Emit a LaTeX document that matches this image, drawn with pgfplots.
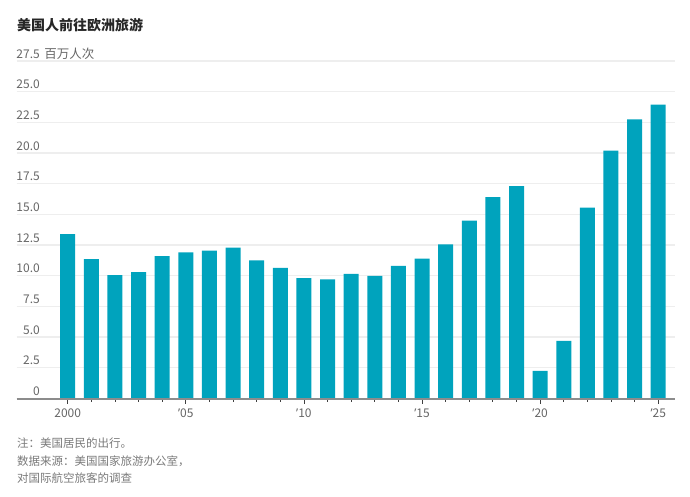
\documentclass[border=0pt]{standalone}
\usepackage{fontspec}
\setmainfont{Noto Sans CJK SC}
\newfontfamily\latinf{Noto Sans}
\usepackage{pgfplots}
\pgfplotsset{compat=1.18}
\definecolor{barc}{HTML}{00A3BD}
\definecolor{gridc}{HTML}{EEEEEE}
\definecolor{axisc}{HTML}{8C8C8C}
\definecolor{labc}{HTML}{666666}
\definecolor{notec}{HTML}{7A7A7A}
\newcommand{\ap}{{\latinf\char"2019}}
\pgfplotstableread{
year value
2000 13.4
2001 11.35
2002 10.05
2003 10.3
2004 11.6
2005 11.9
2006 12.05
2007 12.3
2008 11.25
2009 10.65
2010 9.8
2011 9.7
2012 10.15
2013 10.0
2014 10.8
2015 11.4
2016 12.55
2017 14.5
2018 16.4
2019 17.3
2020 2.25
2021 4.7
2022 15.55
2023 20.2
2024 22.75
2025 23.95
}\datatable
\begin{document}
\begin{tikzpicture}[x=1pt,y=1pt]
\useasboundingbox (0,0) rectangle (690,-496);
\begin{axis}[
  at={(16.7pt,-398.5pt)}, anchor=south west,
  scale only axis, width=658.3pt, height=337.5pt,
  xmin=1997.84, xmax=2025.71, ymin=0, ymax=27.5,
  axis x line*=bottom, axis y line*=left,
  x axis line style={draw=none},
  y axis line style={draw=none},
  ymajorgrids, grid style={draw=gridc, line width=1.3pt},
  ytick={0,2.5,...,27.5},
  yticklabels={0,2.5,5.0,7.5,10.0,12.5,15.0,17.5,20.0,22.5,25.0,{27.5\rlap{\hspace{4.5pt}\fontsize{12.5}{14}\selectfont 百万人次}}},
  ytick style={draw=none},
  yticklabel style={anchor=base east, inner sep=0pt, xshift=28.3pt, yshift=3pt, font=\fontsize{12}{14}\selectfont, text=labc},
  xtick={2000,2005,...,2025},
  xticklabels={2000,\ap05,\ap10,\ap15,\ap20,\ap25},
  minor xtick={2001,...,2024},
  tick align=outside,
  major tick length=5pt, minor tick length=3pt,
  xtick style={draw=black!75, line width=0.8pt},
  minor tick style={draw=black!75, line width=0.8pt},
  xticklabel style={font=\fontsize{12}{14}\selectfont, text=labc, inner sep=0pt, yshift=-5pt},
  /pgf/number format/assume math mode=true,
  clip=false,
]
\addplot[ybar, bar width=15pt, fill=barc, draw=none] table[x=year, y=value] {\datatable};
\draw[axisc, line width=2pt] (axis cs:1997.84,0) -- (axis cs:2025.71,0);
\end{axis}
\node[anchor=west, inner sep=0pt, font=\fontsize{14}{16}\selectfont\bfseries, text=black!85] at (17,-25) {美国人前往欧洲旅游};
\node[anchor=west, inner sep=0pt, font=\fontsize{11.5}{13}\selectfont, text=notec] at (17,-443) {注：美国居民的出行。};
\node[anchor=west, inner sep=0pt, font=\fontsize{11.5}{13}\selectfont, text=notec] at (17,-461) {数据来源：美国国家旅游办公室，};
\node[anchor=west, inner sep=0pt, font=\fontsize{11.5}{13}\selectfont, text=notec] at (17,-478.5) {对国际航空旅客的调查};
\end{tikzpicture}
\end{document}
